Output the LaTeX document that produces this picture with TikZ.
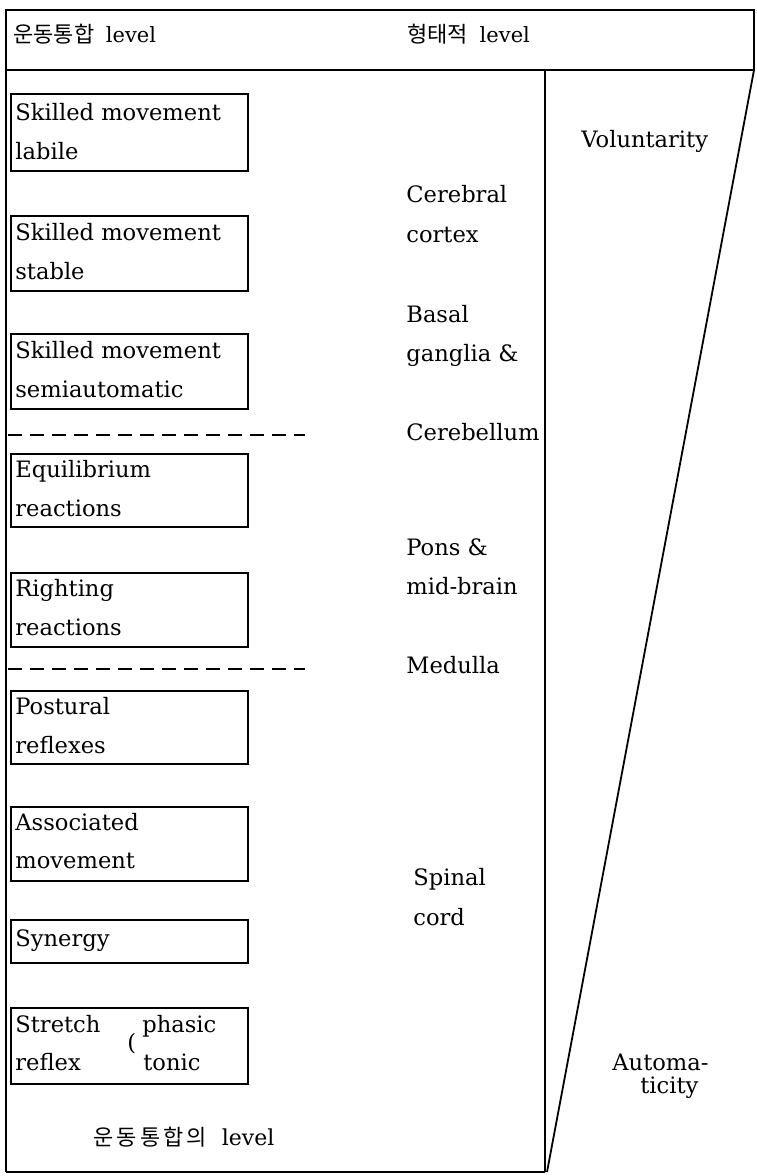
\documentclass[tikz,border=0pt]{standalone}
\usepackage{fontspec}
\setmainfont{DejaVu Serif}
\newfontfamily\kr{Noto Sans CJK KR}
\newfontfamily\krwide{Noto Sans CJK KR}[LetterSpace=14]
\begin{document}
\begin{tikzpicture}[x=0.5pt,y=-0.5pt,
  frame/.style={line width=0.9pt},
  box/.style={draw,line width=0.8pt,anchor=north west,minimum width=118.5pt,inner sep=0pt},
  txt/.style={anchor=base west,inner sep=0pt,font=\fontsize{11.3}{14}\selectfont},
  krtxt/.style={anchor=base west,inner sep=0pt,font=\fontsize{11}{14}\selectfont\kr},
  dashline/.style={line width=0.8pt,dash pattern=on 7pt off 4pt}]
\useasboundingbox (0,0) rectangle (756,1176);
% frame
\coordinate (tl) at (6,10);
\coordinate (tr) at (754,10);
\coordinate (hl) at (6,70);
\coordinate (hm) at (545,70);
\coordinate (hr) at (754,70);
\coordinate (bl) at (6,1172);
\coordinate (bm) at (545,1172);
\coordinate (tip) at (547,1172);
\draw[frame] (bl) -- (tl) -- (tr) -- (hr);
\draw[frame] (hl) -- (hr);
\draw[frame] (hm) -- (bm);
\draw[frame] (bl) -- (bm);
\draw[frame] (hr) -- (tip);
% header
\node[krtxt] (h1) at (13,43) {운동통합 \rmfamily\fontsize{10.5}{14}\selectfont\ level};
\node[krtxt] (h2) at (407,43) {형태적 \rmfamily\fontsize{10.5}{14}\selectfont\ level};
% boxes
\node[box,minimum height=38.5pt] (b1) at (10,93) {};
\node[box,minimum height=37.5pt] (b2) at (10,215) {};
\node[box,minimum height=37.5pt] (b3) at (10,333) {};
\node[box,minimum height=36.5pt] (b4) at (10,453) {};
\node[box,minimum height=37pt] (b5) at (10,572) {};
\node[box,minimum height=36.5pt] (b6) at (10,690) {};
\node[box,minimum height=37pt] (b7) at (10,806) {};
\node[box,minimum height=21.5pt] (b8) at (10,919) {};
\node[box,minimum height=38pt] (b9) at (10,1007) {};
% box texts
\node[txt] (t1a) at (15,121) {Skilled movement};
\node[txt] (t1b) at (15,160) {labile};
\node[txt] (t2a) at (15,241) {Skilled movement};
\node[txt] (t2b) at (15,280) {stable};
\node[txt] (t3a) at (15,358) {Skilled movement};
\node[txt] (t3b) at (15,397) {semiautomatic};
\node[txt] (t4a) at (15,477) {Equilibrium};
\node[txt] (t4b) at (15,516) {reactions};
\node[txt] (t5a) at (15,596) {Righting};
\node[txt] (t5b) at (15,635) {reactions};
\node[txt] (t6a) at (15,714) {Postural};
\node[txt] (t6b) at (15,753) {reflexes};
\node[txt] (t7a) at (15,830) {Associated};
\node[txt] (t7b) at (15,868) {movement};
\node[txt] (t8a) at (15,946) {Synergy};
\node[txt] (t9a) at (15,1032) {Stretch};
\node[txt] (t9b) at (15,1070) {reflex};
\node[txt] (t9p) at (127,1050) {(};
\node[txt] (t9c) at (142,1032) {phasic};
\node[txt] (t9d) at (143,1070) {tonic};
% dashed separators
\coordinate (d1a) at (8,435);
\coordinate (d1b) at (305,435);
\coordinate (d2a) at (8,669);
\coordinate (d2b) at (305,669);
\draw[dashline] (d1a) -- (d1b);
\draw[dashline] (d2a) -- (d2b);
% middle texts
\node[txt] (m1) at (406,203) {Cerebral};
\node[txt] (m2) at (406,243) {cortex};
\node[txt] (m3) at (406,322) {Basal};
\node[txt] (m4) at (406,361) {ganglia \&};
\node[txt] (m5) at (406,440) {Cerebellum};
\node[txt] (m6) at (406,555) {Pons \&};
\node[txt] (m7) at (406,594) {mid-brain};
\node[txt] (m8) at (406,673) {Medulla};
\node[txt] (m9) at (413,885) {Spinal};
\node[txt] (m10) at (413,925) {cord};
% right texts
\node[txt] (v) at (581,148) {Voluntarity};
\node[txt] (a1) at (612,1070) {Automa-};
\node[txt] (a2) at (640,1093) {ticity};
% bottom
\node[krtxt,font=\fontsize{11}{14}\selectfont\krwide] (f) at (93,1145) {운동통합의 \rmfamily\fontsize{11}{14}\selectfont\ level};
\end{tikzpicture}
\end{document}
